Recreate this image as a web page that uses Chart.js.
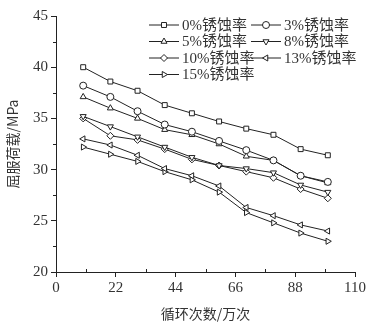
<!DOCTYPE html>
<html>
<head>
<meta charset="utf-8">
<script src="https://cdn.jsdelivr.net/npm/chart.js@4.4.0/dist/chart.umd.min.js"></script>
<style>
  html, body { margin: 0; padding: 0; background: #fff; }
  #wrap { width: 377px; height: 326px; }
</style>
</head>
<body>
<div id="wrap"><canvas id="myChart" width="377" height="326"></canvas></div>
<script>
const cycles = [10, 20, 30, 40, 50, 60, 70, 80, 90, 100];
const rate0 = [40.0, 38.6, 37.7, 36.3, 35.5, 34.7, 34.0, 33.4, 32.0, 31.4];
const rate3 = [38.2, 37.1, 35.7, 34.4, 33.7, 32.8, 31.9, 30.9, 29.4, 28.8];
const rate5 = [37.1, 36.0, 35.0, 33.9, 33.4, 32.5, 31.3, 30.9, 29.4, 28.7];
const rate8 = [35.2, 34.2, 33.2, 32.2, 31.2, 30.4, 30.1, 29.7, 28.5, 27.8];
const rate10 = [35.0, 33.3, 32.9, 32.0, 31.0, 30.4, 29.8, 29.2, 28.1, 27.2];
const rate13 = [33.0, 32.4, 31.4, 30.1, 29.4, 28.4, 26.3, 25.5, 24.6, 24.0];
const rate15 = [32.2, 31.5, 30.8, 29.8, 29.0, 27.8, 25.8, 24.8, 23.8, 23.0];
const seriesLabels = ["0%锈蚀率", "3%锈蚀率", "5%锈蚀率", "8%锈蚀率", "10%锈蚀率", "13%锈蚀率", "15%锈蚀率"];
const xTicks = [0, 22, 44, 66, 88, 110];
const yTicks = [20, 25, 30, 35, 40, 45];

const lineColor = "#222";
const textColor = "#333";
const serif = "'Liberation Serif', 'Noto Sans CJK SC', serif";

const markers = [
    { style: "rect", rot: 0 },
    { style: "circle", rot: 0 },
    { style: "triangle", rot: 0 },
    { style: "triangle", rot: 180 },
    { style: "rectRot", rot: 0 },
    { style: "triangle", rot: 270 },
    { style: "triangle", rot: 90 },
];

const values = [rate0, rate3, rate5, rate8, rate10, rate13, rate15];

const datasets = values.map((vals, i) => ({
    label: seriesLabels[i],
    data: cycles.map((c, j) => ({ x: c, y: vals[j] })),
    borderColor: lineColor,
    borderWidth: 1,
    backgroundColor: "#fff",
    pointStyle: markers[i].style,
    pointRotation: markers[i].rot,
    pointRadius: 3.5,
    pointBorderWidth: 1,
    pointBorderColor: lineColor,
    pointBackgroundColor: "#fff",
    tension: 0,
}));

// legend inside the plot, two columns
const cornerLegend = {
    id: "cornerLegend",
    afterDraw(chart) {
        const ctx = chart.ctx;
        ctx.save();
        chart.data.datasets.forEach((ds, i) => {
            const col = i % 2;
            const row = Math.floor(i / 2);
            const x0 = col ? 251 : 149;
            const y = 25 + row * 16.5;
            ctx.strokeStyle = lineColor;
            ctx.lineWidth = 1;
            ctx.beginPath();
            ctx.moveTo(x0, y);
            ctx.lineTo(x0 + 30, y);
            ctx.stroke();
            ctx.fillStyle = "#fff";
            Chart.helpers.drawPoint(ctx, {
                pointStyle: ds.pointStyle,
                rotation: ds.pointRotation,
                radius: 3.5,
                borderWidth: 1,
            }, x0 + 15, y);
            ctx.fillStyle = textColor;
            ctx.font = "15px " + serif;
            ctx.textBaseline = "middle";
            ctx.textAlign = "left";
            ctx.fillText(ds.label, x0 + 33, y + 1);
        });
        ctx.restore();
    },
};

// small minor ticks
const minorTicks = {
    id: "minorTicks",
    afterDraw(chart) {
        const ctx = chart.ctx;
        const xs = chart.scales.x;
        const ys = chart.scales.y;
        const area = chart.chartArea;
        ctx.save();
        ctx.strokeStyle = lineColor;
        ctx.lineWidth = 1;
        ctx.beginPath();
        for (let v = 11; v < 110; v += 22) {
            const px = Math.round(xs.getPixelForValue(v)) + 0.5;
            ctx.moveTo(px, area.bottom);
            ctx.lineTo(px, area.bottom - 3);
        }
        for (let v = 22.5; v < 45; v += 5) {
            const py = Math.round(ys.getPixelForValue(v)) + 0.5;
            ctx.moveTo(area.left, py);
            ctx.lineTo(area.left - 3, py);
        }
        ctx.stroke();
        ctx.restore();
    },
};

const ctx1 = document.getElementById("myChart").getContext("2d");

const myChart = new Chart(ctx1, {
    type: "line",
    data: { datasets: datasets },
    options: {
        responsive: false,
        animation: false,
        layout: { padding: { top: 16, right: 22, left: 0, bottom: 0 } },
        scales: {
            x: {
                type: "linear",
                min: 0,
                max: 110,
                afterFit: (scale) => { scale.height = 54; },
                afterBuildTicks: (scale) => { scale.ticks = xTicks.map(v => ({ value: v })); },
                ticks: { color: textColor, padding: 2, font: { family: serif, size: 15 } },
                grid: { drawOnChartArea: false, tickLength: 5, tickColor: lineColor },
                border: { display: true, color: lineColor, width: 1 },
                title: { display: true, text: "循环次数/万次", color: textColor, padding: { top: 0, bottom: 4 }, font: { family: "'Noto Sans CJK SC'", size: 14 } },
            },
            y: {
                min: 20,
                max: 45,
                afterFit: (scale) => { scale.width = 56; },
                afterBuildTicks: (scale) => { scale.ticks = yTicks.map(v => ({ value: v })); },
                ticks: { color: textColor, padding: 3, font: { family: serif, size: 15 } },
                grid: { drawOnChartArea: false, tickLength: 5, tickColor: lineColor },
                border: { display: true, color: lineColor, width: 1 },
                title: { display: true, text: "屈服荷载/MPa", color: textColor, padding: { top: 4, bottom: 0 }, font: { family: "'Noto Sans CJK SC'", size: 14 } },
            },
        },
        plugins: {
            legend: { display: false },
            tooltip: { enabled: false },
        },
    },
    plugins: [cornerLegend, minorTicks],
});
</script>
</body>
</html>
